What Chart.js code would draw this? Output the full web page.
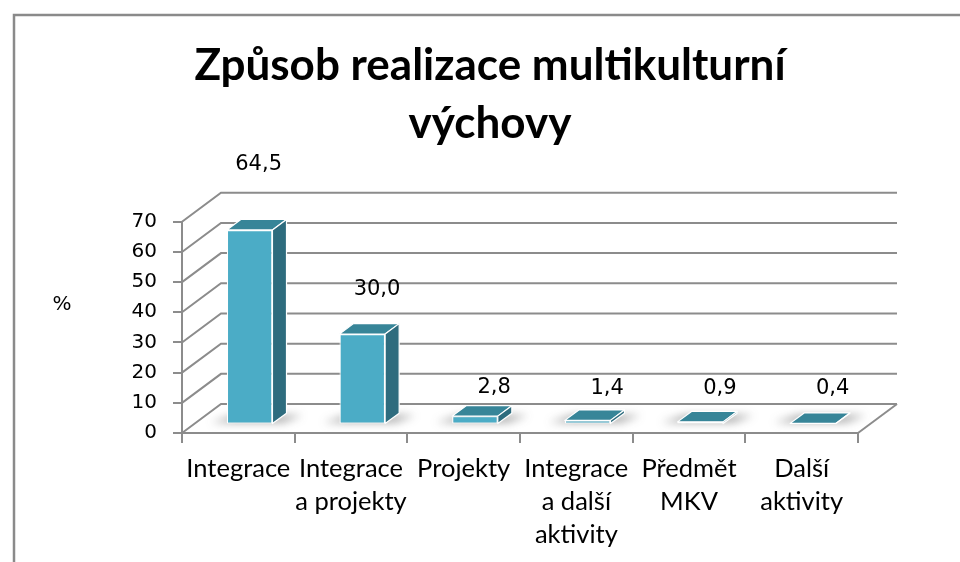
<!DOCTYPE html>
<html>
<head>
<meta charset="utf-8">
<script src="https://cdn.jsdelivr.net/npm/chart.js@4.4.1/dist/chart.umd.min.js"></script>
<style>
  html, body { margin: 0; padding: 0; background: #ffffff; }
  #wrap { width: 960px; height: 562px; position: relative; overflow: hidden; }
  canvas { display: block; }
</style>
</head>
<body>
<div id="wrap"><canvas id="c" width="960" height="562"></canvas></div>
<script>
// ---------- data ----------
const categories = [
  ['Integrace'],
  ['Integrace', 'a projekty'],
  ['Projekty'],
  ['Integrace', 'a další', 'aktivity'],
  ['Předmět', 'MKV'],
  ['Další', 'aktivity']
];
const values = [64.5, 30.0, 2.8, 1.4, 0.9, 0.4];
const yTicks = [0, 10, 20, 30, 40, 50, 60, 70];
const titleLines = ['Způsob realizace multikulturní', 'výchovy'];
const yAxisLabel = '%';

// ---------- 3D look (style only) ----------
const DEPTH_X = 39, DEPTH_Y = -29;     // full floor depth vector
const BAR_FRONT = 0.29;                // bar front face depth fraction
const BAR_DEPTH = 0.36;                // bar thickness fraction
const FRONT_COLOR = '#4bacc6', TOP_COLOR = '#378598', SIDE_COLOR = '#2e6c7e';
const GRID_COLOR = '#8c8c8c';

function fmt(v) { return v.toFixed(1).replace('.', ','); }

const threeD = {
  id: 'threeD',
  afterLayout(chart) {
    const t = chart.titleBlock;
    if (t) { t.left = 20; t.right = 960; t.width = 940; }
  },
  beforeDraw(chart) {
    const ctx = chart.ctx;
    ctx.save();
    ctx.strokeStyle = '#8a8a8a';
    ctx.lineWidth = 2.5;
    ctx.beginPath();
    ctx.moveTo(14, 700); ctx.lineTo(14, 15); ctx.lineTo(1100, 15);
    ctx.stroke();
    ctx.restore();
  },
  beforeDatasetsDraw(chart) {
    const { ctx, chartArea: a } = chart;
    const y = chart.scales.y;
    ctx.save();
    ctx.lineWidth = 2;
    ctx.strokeStyle = GRID_COLOR;
    y.ticks.forEach(t => {
      const py = y.getPixelForValue(t.value);
      ctx.beginPath();
      ctx.moveTo(a.left, py);
      ctx.lineTo(a.left + DEPTH_X, py + DEPTH_Y);
      ctx.lineTo(a.right + DEPTH_X, py + DEPTH_Y);
      ctx.stroke();
    });
    const p0 = y.getPixelForValue(0);
    ctx.beginPath();
    ctx.moveTo(a.right, p0);
    ctx.lineTo(a.right + DEPTH_X, p0 + DEPTH_Y);
    ctx.stroke();
    // soft shadows on the floor
    const meta = chart.getDatasetMeta(0);
    const fx = DEPTH_X * BAR_FRONT, fy = DEPTH_Y * BAR_FRONT;
    const bx = DEPTH_X * BAR_DEPTH, by = DEPTH_Y * BAR_DEPTH;
    ctx.filter = 'blur(4px)';
    ctx.fillStyle = 'rgba(60,60,60,0.45)';
    meta.data.forEach(bar => {
      const p = bar.getProps(['x', 'y', 'base', 'width'], true);
      const l = p.x - p.width / 2 + fx, r = p.x + p.width / 2 + fx, b = p.base + fy;
      ctx.beginPath();
      ctx.moveTo(l - 16, b - 1);
      ctx.lineTo(r + 10, b - 1);
      ctx.lineTo(r + bx + 16, b + by + 2);
      ctx.lineTo(l + bx - 6, b + by + 2);
      ctx.closePath();
      ctx.fill();
    });
    ctx.filter = 'none';
    ctx.restore();
    ctx.save();
    ctx.translate(fx, fy);
  },
  afterDatasetsDraw(chart) {
    const ctx = chart.ctx;
    const meta = chart.getDatasetMeta(0);
    const bx = DEPTH_X * BAR_DEPTH, by = DEPTH_Y * BAR_DEPTH;
    ctx.lineWidth = 1.2;
    ctx.strokeStyle = '#ffffff';
    ctx.lineJoin = 'round';
    meta.data.forEach(bar => {
      const p = bar.getProps(['x', 'y', 'base', 'width'], true);
      const l = p.x - p.width / 2, r = p.x + p.width / 2;
      ctx.beginPath();
      ctx.moveTo(l, p.y); ctx.lineTo(r, p.y);
      ctx.lineTo(r + bx, p.y + by); ctx.lineTo(l + bx, p.y + by);
      ctx.closePath();
      ctx.fillStyle = TOP_COLOR; ctx.fill(); ctx.stroke();
      ctx.beginPath();
      ctx.moveTo(r, p.y); ctx.lineTo(r + bx, p.y + by);
      ctx.lineTo(r + bx, p.base + by); ctx.lineTo(r, p.base);
      ctx.closePath();
      ctx.fillStyle = SIDE_COLOR; ctx.fill(); ctx.stroke();
    });
    ctx.restore();
    // data labels
    const y = chart.scales.y;
    const y0 = y.getPixelForValue(0);
    ctx.save();
    ctx.fillStyle = '#000';
    ctx.font = '21px "DejaVu Sans"';
    ctx.textAlign = 'center';
    ctx.textBaseline = 'middle';
    meta.data.forEach((bar, i) => {
      const p = bar.getProps(['x', 'y'], true);
      const h = y0 - p.y;
      const lx = p.x + 31 - 0.055 * h;
      const ly = y0 - Math.max(44, 35 + 1.2 * h);
      ctx.fillText(fmt(values[i]), lx, ly);
    });
    ctx.font = '20px "DejaVu Sans"';
    ctx.fillText(yAxisLabel, 62, 305);
    ctx.restore();
  }
};

new Chart(document.getElementById('c'), {
  type: 'bar',
  data: {
    labels: categories,
    datasets: [{
      data: values,
      backgroundColor: FRONT_COLOR,
      borderColor: '#ffffff',
      borderWidth: 1.2,
      borderSkipped: false,
      barPercentage: 0.405,
      categoryPercentage: 1.0,
      clip: false
    }]
  },
  options: {
    responsive: false,
    animation: false,
    devicePixelRatio: 1,
    layout: { padding: { left: 0, right: 102, top: 0, bottom: 0 } },
    plugins: {
      legend: { display: false },
      tooltip: { enabled: false },
      title: {
        display: true,
        text: titleLines,
        color: '#000',
        font: { family: 'Lato', size: 44, weight: 'bold', lineHeight: 1.32 },
        padding: { top: 37, bottom: 68.6 }
      }
    },
    scales: {
      x: {
        grid: { offset: true, drawOnChartArea: false, drawTicks: true, tickLength: 10, color: GRID_COLOR, lineWidth: 2 },
        border: { display: true, color: GRID_COLOR, width: 2 },
        ticks: { color: '#000', font: { family: 'Lato', size: 25.5, lineHeight: 1.3 }, padding: 9, maxRotation: 0, autoSkip: false },
        afterFit: s => { s.height = 562 - 433; }
      },
      y: {
        min: 0,
        max: 70,
        afterBuildTicks: s => { s.ticks = yTicks.map(v => ({ value: v })); },
        grid: { drawOnChartArea: false, drawTicks: true, tickLength: 9, color: GRID_COLOR, lineWidth: 2 },
        border: { display: true, color: GRID_COLOR, width: 2 },
        ticks: { color: '#000', font: { family: 'DejaVu Sans', size: 20 }, padding: 16 },
        afterFit: s => { s.width = 182; }
      }
    }
  },
  plugins: [threeD]
});
</script>
</body>
</html>
